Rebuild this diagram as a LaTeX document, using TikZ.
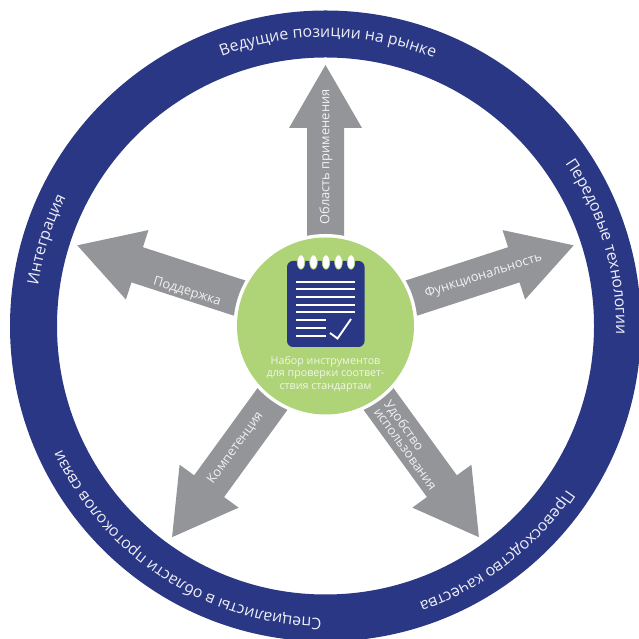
\documentclass[tikz,border=0pt]{standalone}
\usepackage{fontspec}
\setmainfont{Open Sans}
\usetikzlibrary{decorations.text}
\definecolor{ringblue}{HTML}{2A3784}
\definecolor{arrowgray}{HTML}{939598}
\definecolor{hubgreen}{HTML}{AFD478}
\definecolor{ringtext}{HTML}{EDEEF6}
\definecolor{labeltext}{HTML}{F1F1F2}
\definecolor{hubtext}{HTML}{F0F6E4}
\newcommand{\ringfont}{\fontsize{15.9}{18}\selectfont}
\tikzset{
  x=1pt,y=1pt,
  bigarrow/.style={fill=arrowgray,draw=none},
  armlabel/.style={text=labeltext,font=\fontsize{12.9}{12.8}\selectfont,align=left,inner sep=0pt},
  padline/.style={fill=white,draw=none},
  ringlabel/.style={decorate,decoration={text along path,text align=center,raise=0pt,text={#1}}},
}
\newcommand{\radialarrow}[1]{%
  \begin{scope}[shift={(325.5,313)},rotate=#1]
    \fill[bigarrow] (75,-18.5) -- (198,-18.5) -- (198,-36.5) -- (261,0) -- (198,36.5) -- (198,18.5) -- (75,18.5) -- cycle;
  \end{scope}}
\newcommand{\ringtextarc}[3]{%
  \path[ringlabel={|\color{ringtext}\ringfont|#3}] (325.5,311.5) ++(#1:290.5) arc[start angle=#1,end angle=#2,radius=290.5];}
\begin{document}
\begin{tikzpicture}
\useasboundingbox (0,0) rectangle (639,639);
\fill[white] (0,0) rectangle (639,639);
% ring
\fill[ringblue,even odd rule] (325.5,313) circle[radius=315.5] (325.5,313) circle[radius=268.5];
% ring texts
\ringtextarc{139.5}{39.5}{Ведущие позиции на рынке}
\ringtextarc{66.5}{-33.5}{Передовые технологии}
\ringtextarc{-2.5}{-102.5}{Превосходство качества}
\ringtextarc{287}{187}{Специалисты в области протоколов связи}
\ringtextarc{212.5}{112.5}{Интеграция}
% arrows
\radialarrow{90}
\radialarrow{18}
\radialarrow{-54}
\radialarrow{234}
\radialarrow{162}
% hub
\fill[white] (325.5,313) circle[radius=92];
\fill[hubgreen] (325.5,313) circle[radius=88.5];
% notepad
\fill[ringblue,rounded corners=6] (287,292) rectangle (364.5,378);
\foreach \rx in {301,313.5,326,338.5,351}{
  \fill[white,draw=hubgreen,line width=0.7] (\rx,377) ellipse[x radius=3.8,y radius=7.2];
}
\foreach \ly in {357,350,342,334,327}{
  \fill[padline] (296,\ly-1.4) rectangle (355,\ly+1.4);
}
\foreach \ly in {319,311,303}{
  \fill[padline] (296,\ly-1.4) rectangle (326,\ly+1.4);
}
\draw[white,line width=1.9,line join=miter] (330,306) -- (337.5,300.5) -- (351,320);
% hub text
\node[text=hubtext,font=\fontsize{10.7}{12.6}\selectfont,align=center,inner sep=0pt] (hubtitle) at (325.5,265) {Набор инструментов\\для проверки соответ-\\ствия стандартам};
% arm labels
\node[armlabel,rotate=90] (scope) at (326,482) {Область применения};
\node[armlabel,rotate=17.5] (func) at (483.5,363) {Функциональность};
\node[armlabel,rotate=-17.5] (supp) at (187,347) {Поддержка};
\node[armlabel,rotate=54] (comp) at (235.5,191) {Компетенция};
\node[armlabel,rotate=-54] (ease) at (411,194) {Удобство\\использования};
\end{tikzpicture}
\end{document}
